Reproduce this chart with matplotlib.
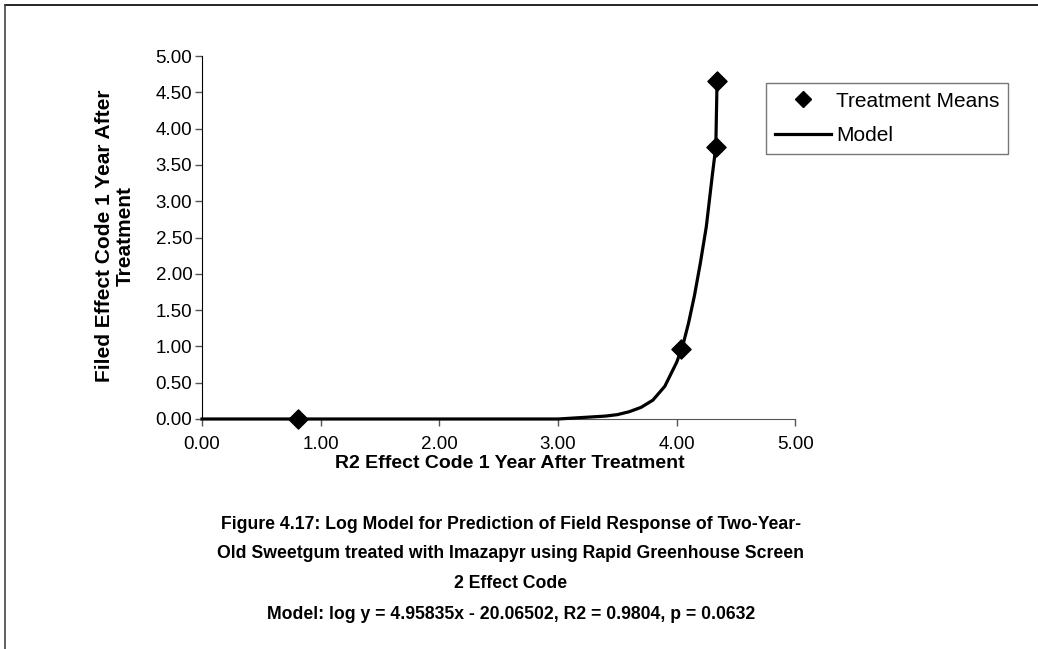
import matplotlib
matplotlib.use("Agg")
import matplotlib.pyplot as plt
from matplotlib.lines import Line2D

plt.rcParams["font.family"] = ["Liberation Sans", "DejaVu Sans"]

# Treatment means
means_x = [0.81, 4.04, 4.33, 4.34]
means_y = [0.00, 0.96, 3.75, 4.65]

# Model curve
model_x = [0.0, 0.5, 1.0, 1.5, 2.0, 2.5, 3.0, 3.1, 3.2, 3.3, 3.4, 3.5, 3.6, 3.7,
           3.8, 3.9, 4.0, 4.05, 4.1, 4.15, 4.2, 4.25, 4.3, 4.33, 4.34]
model_y = [0.0, 0.0, 0.0, 0.0, 0.0, 0.0, 0.0, 0.01, 0.02, 0.03, 0.04, 0.06, 0.10, 0.16,
           0.26, 0.45, 0.78, 1.00, 1.32, 1.70, 2.15, 2.65, 3.35, 3.75, 4.62]

x_ticks = [0, 1, 2, 3, 4, 5]
y_ticks = [0, 0.5, 1, 1.5, 2, 2.5, 3, 3.5, 4, 4.5, 5]

caption_lines = [
    "Figure 4.17: Log Model for Prediction of Field Response of Two-Year-",
    "Old Sweetgum treated with Imazapyr using Rapid Greenhouse Screen",
    "2 Effect Code",
    "Model: log y = 4.95835x - 20.06502, R2 = 0.9804, p = 0.0632",
]

fig = plt.figure(figsize=(10.38, 6.49), dpi=100)
ax = fig.add_axes([0.1946, 0.3544, 0.5716, 0.5593])

ax.plot(model_x, model_y, color="black", linewidth=2.3, label="Model",
        zorder=3, clip_on=False)
ax.scatter(means_x, means_y, marker="D", s=95, color="black",
           label="Treatment Means", zorder=4, clip_on=False)

ax.set_xlim(0, 5)
ax.set_ylim(0, 5)
ax.set_xticks(x_ticks)
ax.set_xticklabels([f"{v:.2f}" for v in x_ticks])
ax.set_yticks(y_ticks)
ax.set_yticklabels([f"{v:.2f}" for v in y_ticks])
ax.tick_params(axis="both", direction="out", length=5, width=1, labelsize=13.5,
               color="#555555")
ax.tick_params(axis="x", pad=7)
ax.tick_params(axis="y", pad=2)
ax.spines["top"].set_visible(False)
ax.spines["right"].set_visible(False)
ax.spines["left"].set_color("black")
ax.spines["bottom"].set_color("#555555")

ax.set_xlabel("R2 Effect Code 1 Year After Treatment", fontsize=14,
              fontweight="bold")
ax.xaxis.set_label_coords(0.519, -0.1)
ax.set_ylabel("Filed Effect Code 1 Year After\nTreatment", fontsize=15,
              fontweight="bold", linespacing=1.1)
ax.yaxis.set_label_coords(-0.113, 0.505)

handles = [
    Line2D([], [], marker="D", color="black", linestyle="none", markersize=8.5),
    Line2D([], [], color="black", linewidth=2.3),
]
leg = ax.legend(handles, ["Treatment Means", "Model"], loc="upper left",
                bbox_to_anchor=(0.951, 0.925), frameon=True, fancybox=False,
                fontsize=15, handlelength=2.7, handletextpad=0.25,
                borderpad=0.4, borderaxespad=0, labelspacing=0.75)
leg.get_frame().set_edgecolor("#555555")
leg.get_frame().set_linewidth(1)

caption_y = [0.1926, 0.1464, 0.1002, 0.0539]
for line, yy in zip(caption_lines, caption_y):
    fig.text(0.492, yy, line, ha="center", va="center", fontsize=12.7,
             fontweight="bold")

# outer frame: top and left edges
fig.add_artist(Line2D([0.005, 1.0], [0.993, 0.993], color="black", linewidth=1.2))
fig.add_artist(Line2D([0.005, 0.005], [0.0, 0.993], color="#444444", linewidth=1.2))

fig.savefig("out.png", dpi=100)
